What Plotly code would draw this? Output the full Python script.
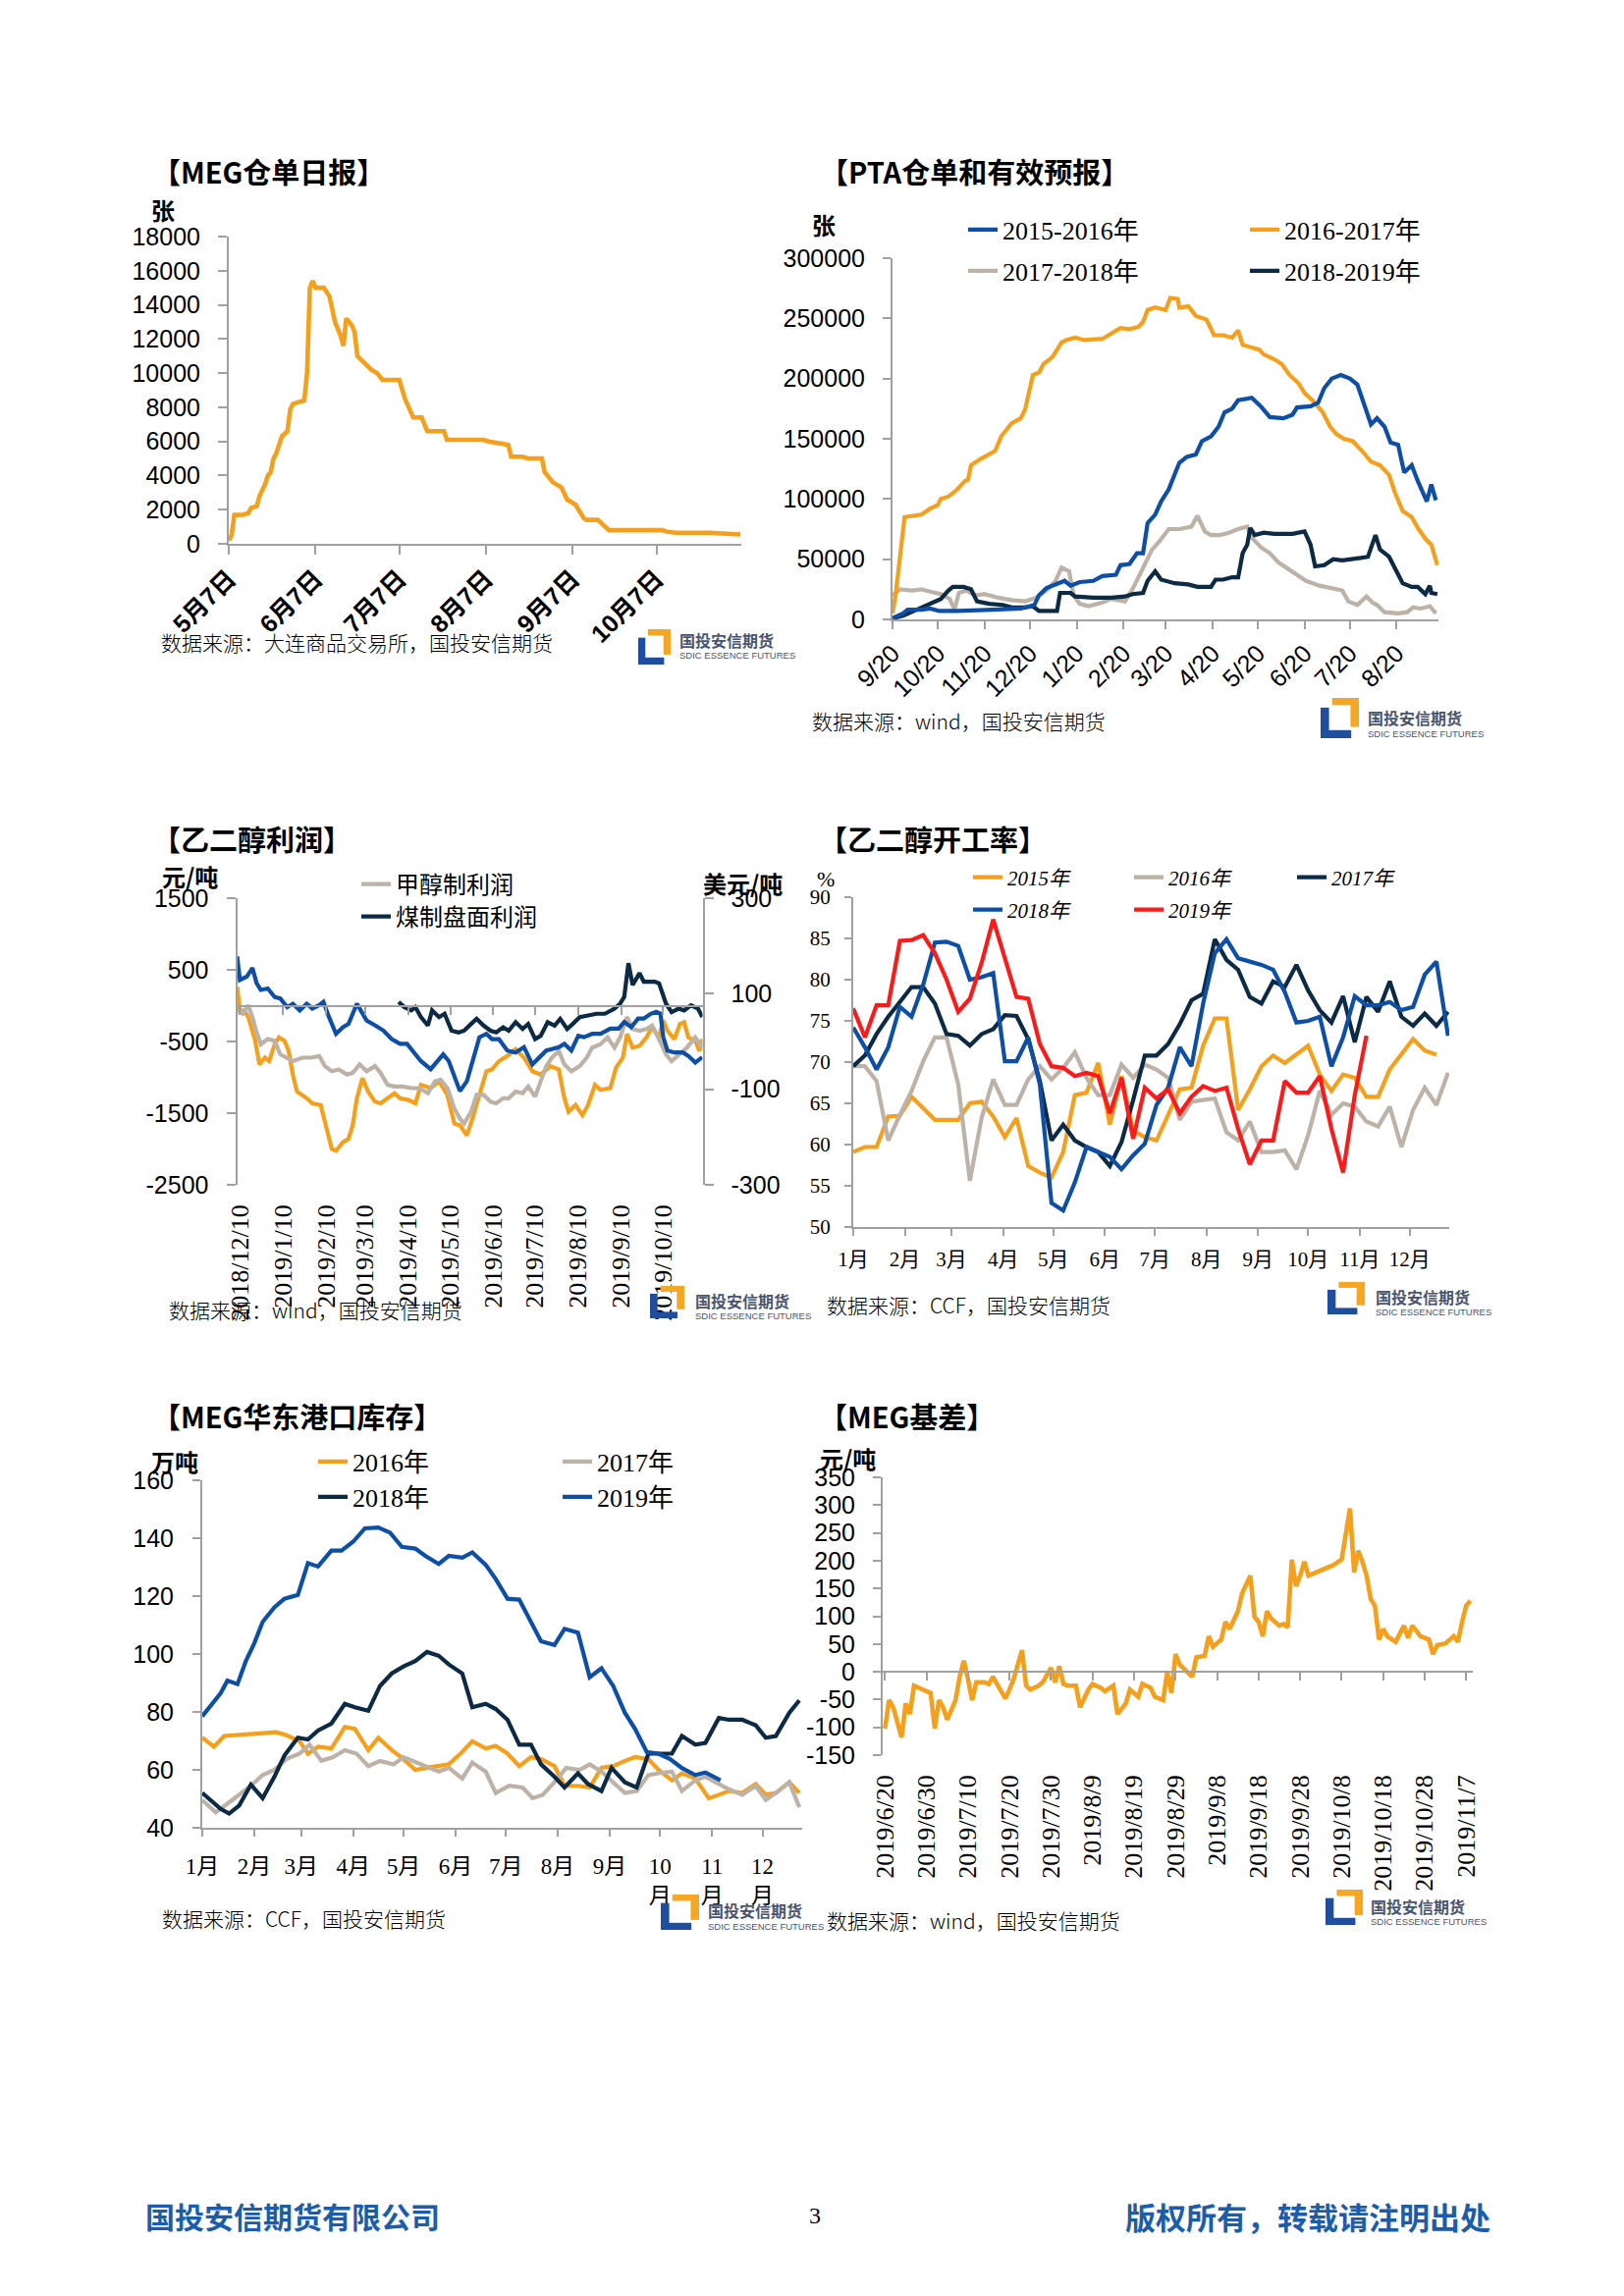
import plotly.graph_objects as go
import pandas as pd

W, H = 1654, 2339

ORANGE = "#F5A01C"
BLUE = "#0D4EA6"
NAVY = "#0C2A43"
GRAY = "#BDB2A7"
RED = "#FF1A1A"
AXC = "#A0A0A0"
LOGO_BLUE = "#1F4E9E"
LOGO_ORANGE = "#F5A623"
FOOT_BLUE = "#1B5DAA"

SANS = "Liberation Sans, Arial, Noto Sans CJK SC, sans-serif"
SERIF = "Liberation Serif, Times New Roman, Noto Sans CJK SC, serif"
CJK = "Noto Sans CJK SC, sans-serif"

# ---------------- Chart 1: MEG warehouse receipts ----------------
wr_dates = ["2019-05-07", "2019-05-08", "2019-05-09", "2019-05-12", "2019-05-14", "2019-05-15", "2019-05-17",
            "2019-05-18", "2019-05-20", "2019-05-21", "2019-05-22", "2019-05-23", "2019-05-24", "2019-05-26",
            "2019-05-28", "2019-05-29", "2019-05-30", "2019-06-01", "2019-06-03", "2019-06-04", "2019-06-05",
            "2019-06-06", "2019-06-07", "2019-06-10", "2019-06-11", "2019-06-12", "2019-06-14", "2019-06-16",
            "2019-06-17", "2019-06-18", "2019-06-20", "2019-06-21", "2019-06-22", "2019-06-24", "2019-06-25",
            "2019-06-27", "2019-06-29", "2019-07-01", "2019-07-07", "2019-07-09", "2019-07-12", "2019-07-15",
            "2019-07-17", "2019-07-23", "2019-07-24", "2019-08-06", "2019-08-08", "2019-08-13", "2019-08-15",
            "2019-08-16", "2019-08-20", "2019-08-22", "2019-08-27", "2019-08-28", "2019-08-31", "2019-09-03",
            "2019-09-05", "2019-09-08", "2019-09-11", "2019-09-12", "2019-09-16", "2019-09-20", "2019-10-09",
            "2019-10-11", "2019-10-14", "2019-10-26", "2019-11-06"]
wr_vals = [200, 500, 1700, 1700, 1800, 2100, 2200, 2800, 3500, 4000, 4200, 5000, 5300, 6300, 6600, 7900, 8200,
           8300, 8400, 10000, 15000, 15400, 15000, 15000, 14700, 14500, 13000, 12200, 11600, 13200, 12800, 12400,
           11000, 10700, 10500, 10200, 10000, 9600, 9600, 8500, 7400, 7400, 6600, 6600, 6100, 6100, 6000, 5900,
           5800, 5100, 5100, 5000, 5000, 4200, 3600, 3300, 2600, 2300, 1500, 1400, 1400, 800, 800, 700, 650,
           650, 550]
wr_tickvals = ["2019-05-07", "2019-06-07", "2019-07-07", "2019-08-07", "2019-09-07", "2019-10-07"]
wr_ticktext = ["5月7日", "6月7日", "7月7日", "8月7日", "9月7日", "10月7日"]

# ---------------- Chart 2: PTA receipts (days after 9/20) ----------------
pta_tick_days = [0, 30, 61, 91, 122, 153, 181, 212, 242, 273, 303, 334]
pta_tick_text = ["9/20", "10/20", "11/20", "12/20", "1/20", "2/20", "3/20", "4/20", "5/20", "6/20", "7/20", "8/20"]

pta_1516_d = [0, 7, 10, 19, 25, 31, 43, 55, 73, 85, 94, 97, 102, 109, 114, 118, 124, 133, 139, 148, 151, 157, 162,
              166, 169, 174, 178, 183, 187, 190, 195, 201, 205, 211, 216, 220, 225, 229, 238, 244, 250, 259, 265,
              268, 277, 282, 286, 291, 297, 303, 308, 312, 317, 321, 326, 330, 335, 339, 344, 348, 354, 357, 360]
pta_1516_v = [1000, 5000, 8000, 8000, 9000, 7000, 7000, 7500, 8000, 9000, 12000, 20000, 26000, 30000, 32000, 28000,
              31000, 32000, 36000, 37000, 45000, 46000, 55000, 55000, 80000, 87000, 98000, 108000, 120000, 130000,
              135000, 137000, 148000, 152000, 160000, 172000, 175000, 182000, 184000, 177000, 168000, 167000,
              170000, 176000, 177000, 180000, 192000, 200000, 203000, 200000, 195000, 180000, 162000, 167000,
              160000, 147000, 145000, 122000, 128000, 115000, 98000, 112000, 99000]

pta_1617_d = [0, 2, 8, 13, 19, 25, 30, 32, 37, 43, 48, 50, 52, 58, 64, 68, 72, 76, 79, 85, 88, 93, 97, 100, 106,
              112, 115, 121, 127, 139, 145, 151, 157, 163, 166, 169, 174, 181, 184, 189, 190, 196, 201, 208, 213,
              219, 225, 229, 232, 243, 246, 253, 258, 263, 269, 273, 279, 285, 290, 294, 299, 305, 311, 317, 323,
              329, 333, 338, 344, 348, 353, 357, 361]
pta_1617_v = [5000, 20000, 85000, 86000, 87000, 92000, 95000, 100000, 102000, 108000, 115000, 116000, 128000,
              133000, 137000, 140000, 152000, 158000, 163000, 167000, 175000, 203000, 205000, 212000, 218000,
              230000, 232000, 234000, 232000, 233000, 238000, 242000, 241000, 243000, 247000, 257000, 259000,
              257000, 267000, 266000, 259000, 260000, 252000, 249000, 236000, 236000, 234000, 240000, 228000,
              224000, 220000, 216000, 212000, 203000, 196000, 188000, 181000, 172000, 160000, 154000, 150000,
              148000, 140000, 131000, 128000, 120000, 105000, 90000, 85000, 76000, 67000, 62000, 45000]

pta_1718_d = [0, 5, 13, 19, 25, 32, 38, 41, 44, 49, 55, 61, 70, 79, 88, 95, 103, 108, 112, 117, 120, 124, 130, 139,
              145, 154, 159, 163, 168, 172, 177, 183, 190, 198, 202, 207, 211, 217, 223, 229, 235, 238, 244, 250,
              256, 262, 268, 274, 283, 292, 298, 302, 308, 314, 318, 321, 326, 335, 341, 345, 350, 356, 360]
pta_1718_v = [20000, 25000, 24000, 25000, 23000, 21000, 17000, 8000, 22000, 24000, 20000, 21000, 18000, 16000,
              15000, 18000, 25000, 32000, 43000, 40000, 20000, 13000, 11000, 14000, 17000, 15000, 25000, 35000,
              48000, 58000, 65000, 75000, 75000, 77000, 86000, 73000, 70000, 70000, 72000, 75000, 77000, 68000,
              60000, 55000, 47000, 42000, 36000, 32000, 28000, 26000, 24000, 15000, 12000, 19000, 14000, 12000,
              6000, 5000, 6000, 10000, 9000, 11000, 5000]

pta_1819_d = [0, 7, 16, 25, 32, 37, 40, 47, 52, 56, 64, 73, 79, 88, 93, 97, 109, 111, 118, 121, 133, 145, 154,
              159, 166, 169, 174, 178, 187, 196, 202, 211, 214, 219, 225, 229, 232, 235, 237, 240, 246, 253, 265,
              273, 277, 280, 286, 292, 298, 310, 315, 320, 323, 329, 333, 338, 344, 348, 353, 356, 357, 361]
pta_1819_v = [1000, 3000, 8000, 13000, 17000, 24000, 27000, 27000, 25000, 15000, 13000, 12000, 10000, 10000,
              11000, 7000, 7000, 22000, 22000, 19000, 18000, 18000, 19000, 21000, 22000, 32000, 40000, 33000,
              30000, 29000, 27000, 27000, 33000, 33000, 35000, 35000, 55000, 62000, 76000, 70000, 72000, 71000,
              71000, 73000, 62000, 44000, 45000, 50000, 49000, 51000, 52000, 70000, 58000, 52000, 43000, 30000,
              27000, 27000, 21000, 28000, 22000, 21000]

# ---------------- Chart 3: MEG profit (days after 2018-12-10) ----------------
prof_base = "2018-12-10"
prof_tickvals = ["2018-12-10", "2019-01-10", "2019-02-10", "2019-03-10", "2019-04-10", "2019-05-10",
                 "2019-06-10", "2019-07-10", "2019-08-10", "2019-09-10", "2019-10-10"]
prof_ticktext = ["2018/12/10", "2019/1/10", "2019/2/10", "2019/3/10", "2019/4/10", "2019/5/10",
                 "2019/6/10", "2019/7/10", "2019/8/10", "2019/9/10", "2019/10/10"]
prof_left_ticks = [-2500, -1500, -500, 500, 1500]
prof_left_text = ["-2500", "-1500", "-500", "500", "1500"]
prof_right_ticks = [-300, -100, 100, 300]
prof_right_text = ["-300", "-100", "100", "300"]

prof_orange_d = [-2, 0, 3, 6, 11, 14, 18, 21, 25, 28, 32, 35, 38, 41, 48, 52, 58, 63, 66, 69, 74, 78, 81, 84, 88,
                 92, 97, 101, 106, 111, 115, 121, 126, 130, 137, 143, 149, 154, 158, 163, 167, 172, 177, 181, 186,
                 192, 198, 204, 210, 216, 223, 229, 233, 236, 241, 246, 250, 255, 259, 266, 270, 275, 278, 282,
                 287, 292, 296, 301, 304, 307, 312, 316, 319, 322, 327, 330, 332]
prof_orange_v = [264, -66, -66, -160, -490, -820, -726, -774, -538, -443, -490, -632, -962, -1198, -1292, -1363,
                 -1387, -1764, -2000, -2024, -1906, -1858, -1670, -1292, -1010, -1198, -1340, -1363, -1292, -1222,
                 -1292, -1316, -1363, -1104, -1151, -1057, -1245, -1646, -1670, -1811, -1575, -1245, -915, -891,
                 -774, -703, -608, -726, -915, -962, -844, -891, -1292, -1481, -1387, -1528, -1387, -1104, -1175,
                 -1151, -868, -726, -396, -585, -561, -443, -302, -443, -207, -349, -467, -255, -231, -443, -490,
                 -632, -467]

prof_methanol_d = [-2, 2, 6, 9, 12, 15, 20, 25, 29, 34, 38, 45, 51, 57, 61, 66, 71, 77, 81, 86, 91, 97, 101, 106,
                   111, 117, 123, 129, 135, 140, 144, 149, 154, 158, 161, 166, 170, 175, 180, 184, 189, 193, 198,
                   203, 207, 212, 215, 220, 224, 229, 233, 238, 244, 249, 253, 259, 264, 269, 273, 278, 282, 287,
                   292, 296, 301, 306, 310, 315, 321, 327, 332]
prof_methanol_v = [-66, -113, 5, -160, -373, -538, -467, -490, -679, -726, -774, -726, -726, -703, -844, -915,
                   -891, -962, -938, -820, -915, -844, -938, -1104, -1128, -1128, -1151, -1151, -1222, -1057, -1033,
                   -1151, -1434, -1575, -1646, -1481, -1245, -1245, -1340, -1363, -1292, -1292, -1198, -1222, -1128,
                   -1269, -1104, -844, -726, -632, -820, -915, -844, -726, -585, -538, -443, -585, -443, -160, -325,
                   -349, -325, -278, -467, -679, -774, -679, -585, -443, -585]

prof_blue_d = [-2, 0, 5, 9, 12, 15, 20, 25, 29, 34, 38, 43, 48, 52, 57, 60, 64, 69, 74, 78, 84, 91, 97, 103, 109,
               115, 120, 124, 130, 137, 141, 146, 150, 155, 158, 163, 167, 172, 177, 181, 186, 192, 198, 204, 210,
               215, 220, 224, 229, 233, 238, 243, 247, 253, 259, 266, 272, 276, 281, 286, 290, 295, 299, 302, 304,
               307, 312, 318, 322, 327, 332]
prof_blue_v = [178, 129, 136, 154, 122, 108, 111, 93, 90, 72, 79, 65, 79, 69, 76, 83, 51, 16, 30, 37, 79, 44, 34,
               23, 5, -5, -5, -19, -41, -58, -44, -27, -41, -83, -104, -83, -41, 9, 16, 5, 5, -19, -23, -12, -48,
               -33, -19, -16, -12, -5, -19, 12, 9, 16, 16, 27, 27, 41, 30, 48, 48, 58, 62, 58, 9, -19, -23, -23,
               -30, -44, -33]

prof_coal_d = [114, 118, 123, 126, 130, 135, 138, 143, 147, 152, 157, 161, 166, 170, 175, 180, 184, 189, 193, 198,
               203, 207, 212, 216, 221, 226, 230, 235, 239, 244, 250, 256, 262, 269, 273, 276, 279, 282, 287, 290,
               298, 301, 306, 310, 315, 319, 324, 329, 332]
prof_coal_v = [52, -19, -66, -19, -160, -278, -66, -160, -113, -349, -373, -349, -255, -184, -278, -349, -373,
               -302, -349, -231, -325, -255, -467, -420, -231, -278, -184, -325, -255, -160, -137, -113, -113, -42,
               28, 123, 594, 288, 453, 335, 335, 311, 28, -90, -42, -66, 5, -42, -160]

# ---------------- Chart 4: MEG operating rate (weekly) ----------------
month_days = [0, 31, 59, 90, 120, 151, 181, 212, 243, 273, 304, 334]
month_text = ["1月", "2月", "3月", "4月", "5月", "6月", "7月", "8月", "9月", "10月", "11月", "12月"]
week_days = list(range(0, 364, 7))

op_2015 = [59.1, 59.7, 59.7, 63.4, 63.5, 65.8, 64.4, 63.0, 63.0, 63.0, 65.0, 65.2, 63.4, 60.9, 63.2, 57.4, 56.6,
           56.0, 59.1, 66.0, 66.3, 69.9, 62.4, 68.3, 61.7, 60.9, 60.5, 63.6, 66.7, 66.9, 72.0, 75.3, 75.3, 64.2,
           66.7, 69.5, 70.8, 69.9, 71.0, 72.0, 68.5, 66.5, 68.5, 68.1, 65.8, 65.8, 69.1, 71.0, 72.8, 71.4, 70.9]
op_2016 = [69.5, 69.5, 67.7, 60.5, 63.6, 66.5, 70.1, 73.0, 73.0, 67.3, 55.6, 63.2, 67.9, 64.8, 64.8, 67.9, 69.5,
           67.9, 69.3, 71.2, 68.1, 66.0, 66.0, 69.7, 68.1, 69.7, 69.1, 68.1, 63.0, 65.2, 65.4, 65.6, 61.5, 60.5,
           62.8, 59.1, 59.1, 59.3, 57.0, 61.1, 66.5, 63.6, 65.0, 64.6, 62.8, 62.2, 64.6, 59.7, 64.2, 66.9, 64.8,
           68.7]
op_2017 = [69.5, 70.8, 73.4, 75.5, 77.3, 79.1, 79.1, 77.1, 73.4, 73.2, 72.0, 73.4, 74.0, 75.7, 75.6, 72.8, 67.7,
           60.5, 62.4, 60.5, 59.7, 59.1, 57.4, 60.3, 65.4, 70.8, 70.8, 72.2, 74.6, 77.5, 78.3, 84.9, 82.4, 81.2,
           77.9, 77.1, 79.8, 79.1, 81.8, 78.7, 76.3, 74.8, 78.0, 72.4, 77.9, 76.1, 79.8, 75.5, 74.4, 75.9, 74.4,
           76.1]
op_2018 = [74.2, 71.8, 69.1, 71.8, 76.7, 75.5, 79.4, 84.5, 84.6, 84.1, 80.0, 80.3, 80.8, 70.1, 70.1, 73.0, 67.3,
           52.9, 52.0, 55.4, 59.7, 59.1, 58.5, 57.0, 58.7, 60.1, 64.8, 66.9, 71.8, 69.5, 77.1, 83.2, 84.9, 82.6,
           82.2, 81.8, 81.2, 78.5, 74.8, 75.0, 75.5, 69.5, 73.0, 78.0, 76.9, 76.9, 77.3, 76.3, 76.7, 80.6, 82.2,
           73.2]
op_2019 = [76.5, 73.0, 76.9, 76.9, 84.7, 84.8, 85.4, 83.2, 80.0, 76.1, 77.7, 82.0, 87.3, 82.8, 77.9, 77.7, 72.2,
           69.5, 69.3, 68.3, 68.7, 68.3, 63.8, 68.1, 60.7, 66.9, 65.6, 66.7, 63.8, 65.8, 67.1, 66.5, 66.9, 61.9,
           57.6, 60.5, 60.5, 67.7, 66.3, 66.3, 68.3, 61.9, 56.6, 66.0, 73.2]

# ---------------- Chart 5: East China port inventory (day of year) ----------------
inv_month_text = ["1月", "2月", "3月", "4月", "5月", "6月", "7月", "8月", "9月", "10<br>月", "11<br>月", "12<br>月"]
inv_2016_d = [0, 7, 13, 21, 29, 36, 44, 50, 58, 63, 69, 77, 85, 91, 99, 105, 113, 120, 127, 134, 141, 147, 155, 161,
              169, 175, 182, 189, 196, 202, 210, 216, 224, 231, 238, 245, 252, 258, 266, 272, 280, 286, 294, 302,
              308, 314, 322, 330, 336, 342, 350, 356]
inv_2016_v = [71.1, 68.0, 71.7, 72.0, 72.3, 72.6, 73.0, 72.0, 69.9, 65.6, 68.0, 67.4, 74.8, 74.2, 66.8, 71.1, 66.8,
              63.7, 60.0, 60.7, 61.3, 61.9, 66.2, 69.9, 67.4, 68.3, 65.6, 61.3, 64.4, 63.7, 61.3, 54.5, 54.5, 53.9,
              60.7, 61.3, 63.1, 64.4, 63.7, 60.0, 56.4, 58.8, 57.0, 50.2, 51.4, 52.7, 52.0, 55.1, 51.4, 52.0, 55.7,
              52.0]
inv_2017_d = [0, 8, 15, 21, 29, 36, 43, 50, 58, 64, 71, 78, 85, 92, 99, 106, 114, 120, 128, 134, 141, 147, 155,
              161, 169, 175, 183, 191, 197, 203, 211, 217, 225, 231, 238, 245, 252, 259, 266, 272, 280, 286, 294,
              300, 308, 314, 322, 330, 336, 342, 350, 356]
inv_2017_v = [49.6, 45.3, 48.3, 50.8, 54.5, 58.2, 60.0, 63.7, 65.6, 68.7, 63.1, 64.4, 66.8, 65.6, 61.3, 63.1, 61.9,
              64.4, 62.5, 60.7, 59.4, 60.7, 57.0, 62.5, 59.4, 52.0, 54.5, 53.9, 50.2, 51.4, 56.4, 60.7, 60.0, 61.9,
              59.4, 55.7, 52.0, 52.7, 58.2, 58.8, 59.4, 52.7, 56.4, 57.6, 55.1, 53.3, 51.4, 54.5, 49.6, 52.0, 55.7,
              47.1]
inv_2018_d = [0, 6, 11, 16, 22, 29, 36, 43, 49, 57, 63, 69, 77, 85, 91, 99, 106, 113, 120, 127, 134, 141, 147, 155,
              161, 169, 175, 182, 189, 196, 202, 210, 216, 224, 230, 238, 244, 252, 259, 266, 272, 280, 286, 294,
              300, 308, 314, 322, 330, 336, 342, 350, 356]
inv_2018_v = [52.0, 49.0, 46.5, 44.9, 47.7, 54.9, 50.2, 57.6, 65.0, 71.1, 70.5, 73.6, 76.0, 82.8, 81.6, 80.4, 89.0,
              93.3, 95.7, 97.6, 100.7, 99.4, 96.4, 93.3, 81.6, 82.8, 81.0, 77.3, 68.7, 68.7, 61.9, 57.6, 53.9, 58.8,
              55.1, 52.7, 60.7, 55.7, 53.9, 65.6, 65.6, 65.6, 71.7, 68.7, 69.3, 77.9, 77.3, 77.3, 75.4, 71.1, 71.7,
              79.7, 84.0]
inv_2019_d = [0, 6, 11, 15, 21, 26, 31, 36, 43, 49, 57, 63, 69, 77, 83, 90, 97, 105, 112, 119, 127, 133, 141, 147,
              155, 161, 169, 175, 182, 189, 196, 202, 210, 216, 224, 231, 238, 245, 252, 258, 265, 272, 279, 286,
              294, 300, 309]
inv_2019_v = [78.5, 82.8, 86.5, 90.8, 89.6, 97.6, 103.7, 111.1, 116.1, 119.1, 120.4, 131.4, 130.2, 135.7, 135.7,
              138.8, 143.4, 143.7, 141.9, 137.0, 136.4, 133.9, 131.1, 133.9, 133.3, 135.1, 130.8, 125.9, 119.1,
              118.8, 111.1, 104.4, 103.1, 108.7, 107.4, 92.0, 95.1, 89.0, 79.7, 74.2, 66.2, 65.6, 63.7, 60.6, 58.2,
              59.1, 56.4]

# ---------------- Chart 6: MEG basis (days after 2019-06-20) ----------------
basis_base = "2019-06-20"
basis_d = [0, 1, 2, 3, 4, 5, 6, 7, 8, 10, 11, 12, 13, 14, 15, 16, 17, 18, 19, 20, 21, 22, 24, 25, 26, 27, 29, 30,
           31, 33, 34, 35, 37, 38, 40, 41, 42, 43, 44, 46, 47, 49, 50, 52, 53, 55, 56, 58, 59, 61, 62, 64, 65, 67,
           68, 69, 70, 71, 73, 74, 75, 77, 78, 79, 81, 82, 83, 85, 86, 88, 89, 90, 91, 92, 93, 95, 96, 97, 98, 99,
           100, 101, 102, 105, 108, 110, 111, 112, 113, 114, 115, 116, 117, 118, 119, 120, 121, 123, 125, 126,
           127, 129, 131, 132, 133, 135, 137, 138, 139, 140, 141]
basis_v = [-102, -51, -64, -89, -118, -57, -76, -25, -29, -35, -38, -102, -51, -64, -86, -70, -51, -9, 20, -13,
           -51, -19, -19, -22, -9, -22, -48, -32, -13, 39, -25, -32, -25, -19, 7, -19, 10, -22, -25, -25, -64, -32,
           -22, -29, -35, -25, -76, -57, -32, -45, -22, -29, -45, -51, 0, -38, 32, 13, 0, -9, 26, 29, 64, 45, 58,
           90, 77, 109, 141, 173, 99, 90, 64, 109, 96, 83, 86, 80, 202, 154, 173, 198, 173, 182, 192, 202, 253, 294,
           179, 218, 198, 173, 131, 119, 58, 77, 64, 54, 83, 61, 83, 64, 58, 32, 48, 51, 64, 54, 90, 119, 128]
basis_tickvals = ["2019-06-20", "2019-06-30", "2019-07-10", "2019-07-20", "2019-07-30", "2019-08-09",
                  "2019-08-19", "2019-08-29", "2019-09-08", "2019-09-18", "2019-09-28", "2019-10-08",
                  "2019-10-18", "2019-10-28", "2019-11-07"]
basis_ticktext = ["2019/6/20", "2019/6/30", "2019/7/10", "2019/7/20", "2019/7/30", "2019/8/9", "2019/8/19",
                  "2019/8/29", "2019/9/8", "2019/9/18", "2019/9/28", "2019/10/8", "2019/10/18", "2019/10/28",
                  "2019/11/7"]
basis_yticks = [-150, -100, -50, 0, 50, 100, 150, 200, 250, 300, 350]
basis_ytext = ["-150", "-100", "-50", "0", "50", "100", "150", "200", "250", "300", "350"]


def to_dates(base, offsets):
    b = pd.Timestamp(base)
    return [(b + pd.Timedelta(days=d)).strftime("%Y-%m-%d") for d in offsets]


def PX(v):
    return v / W


def PY(v):
    return 1 - v / H


def axis(**kw):
    d = dict(showgrid=False, zeroline=False, showline=True, linecolor=AXC, linewidth=2,
             ticks="outside", ticklen=8, tickwidth=2, tickcolor=AXC, fixedrange=True, automargin=False,
             tickfont=dict(family=SANS, size=25, color="black"))
    d.update(kw)
    return d


fig = go.Figure()
LW = 4.2

# Chart 1
fig.add_trace(go.Scatter(x=wr_dates, y=wr_vals, mode="lines", line=dict(color=ORANGE, width=4.6),
                         xaxis="x", yaxis="y", showlegend=False, hoverinfo="skip"))

# Chart 2
for d, v, name, col, lg in [(pta_1718_d, pta_1718_v, "2017-2018年", GRAY, "legend3"),
                            (pta_1819_d, pta_1819_v, "2018-2019年", NAVY, "legend4"),
                            (pta_1617_d, pta_1617_v, "2016-2017年", ORANGE, "legend2"),
                            (pta_1516_d, pta_1516_v, "2015-2016年", BLUE, "legend")]:
    fig.add_trace(go.Scatter(x=d, y=v, mode="lines", name=name, line=dict(color=col, width=LW),
                             xaxis="x2", yaxis="y2", legend=lg, hoverinfo="skip"))

# Chart 3
fig.add_trace(go.Scatter(x=to_dates(prof_base, prof_orange_d), y=prof_orange_v, mode="lines",
                         line=dict(color=ORANGE, width=LW), xaxis="x3", yaxis="y3", showlegend=False,
                         hoverinfo="skip"))
fig.add_trace(go.Scatter(x=to_dates(prof_base, prof_methanol_d), y=prof_methanol_v, mode="lines",
                         name="甲醇制利润", line=dict(color=GRAY, width=LW), xaxis="x3", yaxis="y3",
                         legend="legend5", hoverinfo="skip"))
fig.add_trace(go.Scatter(x=to_dates(prof_base, prof_blue_d), y=prof_blue_v, mode="lines",
                         line=dict(color=BLUE, width=LW), xaxis="x3", yaxis="y4", showlegend=False,
                         hoverinfo="skip"))
fig.add_trace(go.Scatter(x=to_dates(prof_base, prof_coal_d), y=prof_coal_v, mode="lines",
                         name="煤制盘面利润", line=dict(color=NAVY, width=LW), xaxis="x3", yaxis="y3",
                         legend="legend6", hoverinfo="skip"))
fig.add_trace(go.Scatter(x=[], y=[], xaxis="x4", yaxis="y3", showlegend=False, hoverinfo="skip"))

# Chart 4
for vals, name, col, lg in [(op_2015, "2015年", ORANGE, "legend7"), (op_2016, "2016年", GRAY, "legend8"),
                            (op_2017, "2017年", NAVY, "legend9"), (op_2018, "2018年", BLUE, "legend10"),
                            (op_2019, "2019年", RED, "legend11")]:
    fig.add_trace(go.Scatter(x=week_days[:len(vals)], y=vals, mode="lines", name=name,
                             line=dict(color=col, width=LW), xaxis="x5", yaxis="y5", legend=lg,
                             hoverinfo="skip"))

# Chart 5
for d, v, name, col, lg in [(inv_2016_d, inv_2016_v, "2016年", ORANGE, "legend12"),
                            (inv_2017_d, inv_2017_v, "2017年", GRAY, "legend13"),
                            (inv_2018_d, inv_2018_v, "2018年", NAVY, "legend14"),
                            (inv_2019_d, inv_2019_v, "2019年", BLUE, "legend15")]:
    fig.add_trace(go.Scatter(x=d, y=v, mode="lines", name=name, line=dict(color=col, width=LW),
                             xaxis="x6", yaxis="y6", legend=lg, hoverinfo="skip"))

# Chart 6
fig.add_trace(go.Scatter(x=to_dates(basis_base, basis_d), y=basis_v, mode="lines",
                         line=dict(color=ORANGE, width=4.6), xaxis="x7", yaxis="y7", showlegend=False,
                         hoverinfo="skip"))
fig.add_trace(go.Scatter(x=[], y=[], xaxis="x8", yaxis="y7", showlegend=False, hoverinfo="skip"))

prof_range = ["2018-12-08", "2019-11-07 05:00"]
basis_range = ["2019-06-19 11:00", "2019-11-08 14:00"]

layout = dict(
    width=W, height=H, margin=dict(l=0, r=0, t=0, b=0, pad=0, autoexpand=False),
    paper_bgcolor="white", plot_bgcolor="rgba(0,0,0,0)", hovermode=False,
    # chart 1
    xaxis=axis(domain=[PX(233), PX(755)], anchor="y", type="date", range=["2019-05-07", "2019-11-06 08:00"],
               tickmode="array", tickvals=wr_tickvals, ticktext=wr_ticktext, tickangle=-45, ticklen=9,
               tickfont=dict(family="Liberation Sans, Noto Sans CJK SC", size=25, color="black", weight="bold")),
    yaxis=axis(domain=[PY(554), PY(241)], anchor="x", range=[0, 18000], dtick=2000, tickformat="d",
               ticklen=9, ticklabelstandoff=13),
    # chart 2
    xaxis2=axis(domain=[PX(909), PX(1465)], anchor="y2", range=[0, 361.7], tickmode="array",
                tickvals=pta_tick_days, ticktext=pta_tick_text, tickangle=-45,
                tickfont=dict(family=SANS, size=25, color="black")),
    yaxis2=axis(domain=[PY(631), PY(263)], anchor="x2", range=[0, 300000], dtick=50000, tickformat="d",
                ticklabelstandoff=13),
    # chart 3
    xaxis3=dict(domain=[PX(241.5), PX(715.5)], anchor="y3", type="date", range=prof_range, tickmode="array",
                tickvals=prof_tickvals, ticktext=prof_ticktext, tickangle=-90, showline=False, ticks="",
                showgrid=False, zeroline=False, fixedrange=True, ticklabelstandoff=14, automargin=False,
                tickfont=dict(family=SERIF, size=26, color="black")),
    xaxis4=axis(overlaying="x3", anchor="free", position=PY(1024.5), type="date", range=prof_range,
                tickmode="array", tickvals=prof_tickvals, showticklabels=False),
    yaxis3=axis(domain=[PY(1207), PY(915)], anchor="x3", range=[-2500, 1500], tickmode="array",
                tickvals=prof_left_ticks, ticktext=prof_left_text, ticklen=9, ticklabelstandoff=13),
    yaxis4=axis(overlaying="y3", side="right", anchor="x3", range=[-300, 300], tickmode="array",
                tickvals=prof_right_ticks, ticktext=prof_right_text, ticklen=9, ticklabelstandoff=13),
    # chart 4
    xaxis5=axis(domain=[PX(869), PX(1476)], anchor="y5", range=[0, 357.7], tickmode="array",
                tickvals=month_days, ticktext=month_text, ticklen=7, ticklabelstandoff=6,
                tickfont=dict(family=SERIF, size=21, color="black")),
    yaxis5=axis(domain=[PY(1250), PY(914)], anchor="x5", range=[50, 90], dtick=5, ticklen=7,
                ticklabelstandoff=10, tickfont=dict(family=SERIF, size=21, color="black")),
    # chart 5
    xaxis6=axis(domain=[PX(206), PX(817)], anchor="y6", range=[0, 357.7], tickmode="array",
                tickvals=month_days, ticktext=inv_month_text, ticklen=7, ticklabelstandoff=10,
                tickfont=dict(family=SERIF, size=23, color="black")),
    yaxis6=axis(domain=[PY(1862), PY(1508)], anchor="x6", range=[40, 160], dtick=20, ticklabelstandoff=14),
    # chart 6
    xaxis7=dict(domain=[PX(899), PX(1500)], anchor="y7", type="date", range=basis_range, tickmode="array",
                tickvals=basis_tickvals, ticktext=basis_ticktext, tickangle=-90, showline=False, ticks="",
                showgrid=False, zeroline=False, fixedrange=True, ticklabelstandoff=14, automargin=False,
                tickfont=dict(family=SERIF, size=26, color="black")),
    xaxis8=axis(overlaying="x7", anchor="free", position=PY(1703), type="date", range=basis_range,
                tickmode="array", tickvals=basis_tickvals, showticklabels=False),
    yaxis7=axis(domain=[PY(1788), PY(1505)], anchor="x7", range=[-150, 350], tickmode="array",
                tickvals=basis_yticks, ticktext=basis_ytext, ticklen=8, ticklabelstandoff=13),
)


def legend_at(text_x, y, font):
    return dict(x=PX(text_x - 40), y=PY(y), xanchor="left", yanchor="middle", orientation="h",
                bgcolor="rgba(0,0,0,0)", borderwidth=0, font=font)


f2 = dict(family=SERIF, size=26, color="black")
f3 = dict(family=CJK, size=24, color="black")
f4 = dict(family=SERIF, size=21, color="black", style="italic")
f5 = dict(family=SERIF, size=26, color="black")
layout.update(
    legend=legend_at(1021, 234, f2), legend2=legend_at(1308, 234, f2),
    legend3=legend_at(1021, 276, f2), legend4=legend_at(1308, 276, f2),
    legend5=legend_at(403, 901, f3), legend6=legend_at(403, 934, f3),
    legend7=legend_at(1026, 894, f4), legend8=legend_at(1190, 894, f4), legend9=legend_at(1356, 894, f4),
    legend10=legend_at(1026, 927, f4), legend11=legend_at(1190, 927, f4),
    legend12=legend_at(359, 1489, f5), legend13=legend_at(608, 1489, f5),
    legend14=legend_at(359, 1525, f5), legend15=legend_at(608, 1525, f5),
)

annotations = []
shapes = []


def text(t, x, y, size, family=CJK, color="black", xanchor="left", weight="normal", style="normal"):
    annotations.append(dict(text=t, x=PX(x), y=PY(y), xref="paper", yref="paper", xanchor=xanchor,
                            yanchor="middle", showarrow=False,
                            font=dict(family=family, size=size, color=color, weight=weight, style=style)))


# titles
for t, x, y in [("【MEG仓单日报】", 153, 174), ("【PTA仓单和有效预报】", 833, 174), ("【乙二醇利润】", 153, 854),
                ("【乙二醇开工率】", 832, 854), ("【MEG华东港口库存】", 153, 1442), ("【MEG基差】", 832, 1442)]:
    text(t, x, y, 29, weight="bold")

# unit labels
text("张", 152, 214, 24, weight="bold")
text("张", 825, 229, 24, weight="bold")
text("元/吨", 163, 892, 24, weight="bold")
text("美元/吨", 714, 899, 24, weight="bold")
text("%", 830, 895, 22, family=SERIF)
text("万吨", 152, 1488, 24, weight="bold")
text("元/吨", 833, 1485, 24, weight="bold")

# sources
for t, x, y in [("数据来源：大连商品交易所，国投安信期货", 162, 654), ("数据来源：wind，国投安信期货", 825, 734),
                ("数据来源：wind，国投安信期货", 170, 1334), ("数据来源：CCF，国投安信期货", 840, 1329),
                ("数据来源：CCF，国投安信期货", 163, 1954), ("数据来源：wind，国投安信期货", 840, 1956)]:
    text(t, x, y, 21, weight=300)


def logo(x0, y0, x1, y1, tx, ty1, ty2):
    w, h = x1 - x0, y1 - y0
    rects = [
        (x0 + 0.30 * w, y0, x1, y0 + 0.18 * h, LOGO_ORANGE),
        (x1 - 0.22 * w, y0, x1, y0 + 0.72 * h, LOGO_ORANGE),
        (x0, y0 + 0.24 * h, x0 + 0.22 * w, y1, LOGO_BLUE),
        (x0, y1 - 0.20 * h, x0 + 0.80 * w, y1, LOGO_BLUE),
    ]
    for a, b, c, d, col in rects:
        shapes.append(dict(type="rect", xref="paper", yref="paper", x0=PX(a), x1=PX(c), y0=PY(d), y1=PY(b),
                           fillcolor=col, line=dict(width=0), layer="above"))
    text("国投安信期货", tx, ty1, 16, color="#4a5470", weight="bold")
    text("SDIC ESSENCE FUTURES", tx, ty2, 9.5, family="Liberation Sans Narrow, Liberation Sans", color="#4a5470")


logo(650, 641, 683, 677, 690, 652, 667)
logo(1345, 711, 1384, 752, 1391, 731, 747)
logo(662, 1310, 697, 1343, 706, 1325, 1340)
logo(1352, 1306, 1390, 1339, 1399, 1321, 1336)
logo(673, 1930, 712, 1966, 719, 1946, 1962)
logo(1350, 1925, 1388, 1961, 1394, 1942, 1957)

# footer
text("国投安信期货有限公司", 146, 2257, 30, color=FOOT_BLUE, weight="bold")
text("3", 830, 2257, 24, family=SERIF, xanchor="center")
text("版权所有，转载请注明出处", 1520, 2257, 31, color=FOOT_BLUE, xanchor="right", weight="bold")

layout["annotations"] = annotations
layout["shapes"] = shapes
fig.update_layout(**layout)

fig.write_html("out.html", config={"displayModeBar": False, "staticPlot": True},
               post_script="document.body.style.margin='0px';document.body.style.padding='0px';")
